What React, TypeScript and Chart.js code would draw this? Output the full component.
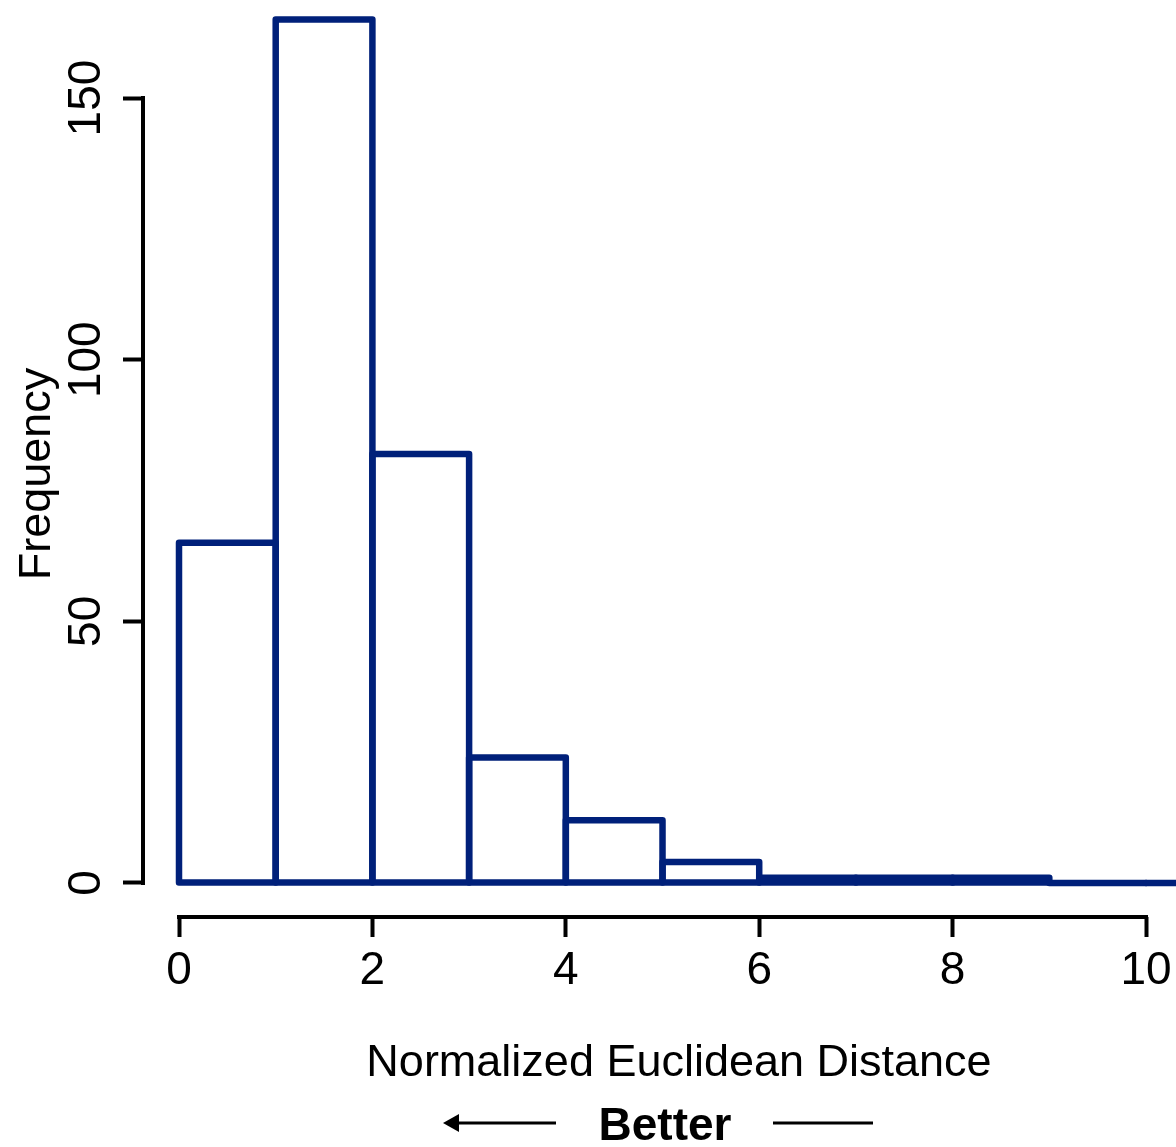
import React, { useEffect, useRef } from "react";
import { Chart, registerables } from "chart.js";

Chart.register(...registerables);

// ---- data ----
const binStarts = [0, 1, 2, 3, 4, 5, 6, 7, 8, 9, 10];
const binWidth = 1;
const frequencies = [65, 165, 82, 24, 12, 4, 1, 1, 1, 0, 0];
const xTickValues = [0, 2, 4, 6, 8, 10];
const yTickValues = [0, 50, 100, 150];
const xAxisTitle = "Normalized Euclidean Distance";
const yAxisTitle = "Frequency";
const noteText = "Better";

// ---- style / layout ----
const W = 1176;
const H = 1147;
const BAR_COLOR = "#00207a";
const FONT = "'Liberation Sans', Arial, Helvetica, sans-serif";
const X_MIN = -0.3723;
const X_MAX = 10.31;
const Y_MIN = -6.497;
const Y_MAX = 168.73;
const AXIS_W = 4;

const histOutline = {
  id: "histOutline",
  afterDatasetsDraw(chart: any) {
    const meta = chart.getDatasetMeta(0);
    const ctx = chart.ctx;
    ctx.save();
    ctx.strokeStyle = BAR_COLOR;
    ctx.lineWidth = 6.5;
    ctx.lineJoin = "round";
    meta.data.forEach((el: any) => {
      const { x, y, base, width } = el.getProps(["x", "y", "base", "width"], true);
      const top = Math.min(y, base);
      const h = Math.abs(base - y);
      ctx.beginPath();
      ctx.moveTo(x - width / 2, base);
      ctx.lineTo(x - width / 2, top);
      ctx.lineTo(x + width / 2, top);
      ctx.lineTo(x + width / 2, top + h);
      ctx.closePath();
      ctx.stroke();
    });
    ctx.restore();
  },
};

const axesAndText = {
  id: "axesAndText",
  afterDraw(chart: any) {
    const ctx = chart.ctx;
    const xs = chart.scales.x;
    const ys = chart.scales.y;
    const area = chart.chartArea;
    ctx.save();
    ctx.strokeStyle = "#000";
    ctx.lineWidth = AXIS_W;
    ctx.lineCap = "butt";
    // x axis line
    const xa0 = xs.getPixelForValue(xTickValues[0]);
    const xa1 = xs.getPixelForValue(xTickValues[xTickValues.length - 1]);
    ctx.beginPath();
    ctx.moveTo(xa0 - AXIS_W / 2, area.bottom);
    ctx.lineTo(xa1 + AXIS_W / 2, area.bottom);
    ctx.stroke();
    // y axis line
    const ya0 = ys.getPixelForValue(yTickValues[0]);
    const ya1 = ys.getPixelForValue(yTickValues[yTickValues.length - 1]);
    ctx.beginPath();
    ctx.moveTo(area.left, ya0 + AXIS_W / 2);
    ctx.lineTo(area.left, ya1 - AXIS_W / 2);
    ctx.stroke();

    ctx.fillStyle = "#000";
    // x title
    ctx.font = `45px ${FONT}`;
    ctx.textAlign = "center";
    ctx.textBaseline = "alphabetic";
    ctx.fillText(xAxisTitle, 679, 1076);
    // y title
    ctx.save();
    ctx.translate(50, 474);
    ctx.rotate(-Math.PI / 2);
    ctx.fillText(yAxisTitle, 0, 0);
    ctx.restore();
    // Better
    ctx.font = `bold 46px ${FONT}`;
    ctx.fillText(noteText, 665, 1140);
    // arrows
    ctx.lineWidth = 3;
    ctx.beginPath();
    ctx.moveTo(456, 1123);
    ctx.lineTo(556, 1123);
    ctx.moveTo(773, 1123);
    ctx.lineTo(873, 1123);
    ctx.stroke();
    ctx.beginPath();
    ctx.moveTo(443, 1123);
    ctx.lineTo(459, 1114);
    ctx.lineTo(459, 1132);
    ctx.closePath();
    ctx.fill();
    ctx.restore();
  },
};

export default function App() {
  const ref = useRef<HTMLCanvasElement | null>(null);
  useEffect(() => {
    document.body.style.margin = "0";
    if (!ref.current) return;
    Chart.defaults.font.family = FONT;
    const chart = new Chart(ref.current, {
      type: "bar",
      data: {
        datasets: [
          {
            data: binStarts.map((s, i) => ({ x: s + binWidth / 2, y: frequencies[i] })),
            backgroundColor: "rgba(0,0,0,0)",
            borderWidth: 0,
            barPercentage: 1,
            categoryPercentage: 1,
          } as any,
        ],
      },
      options: {
        responsive: false,
        animation: false,
        layout: { padding: 0 },
        plugins: {
          legend: { display: false },
          tooltip: { enabled: false },
          title: { display: false },
        },
        scales: {
          x: {
            type: "linear",
            min: X_MIN,
            max: X_MAX,
            offset: false,
            grid: {
              display: true,
              drawOnChartArea: false,
              drawTicks: true,
              tickLength: 20,
              tickWidth: AXIS_W,
              tickColor: "#000",
              offset: false,
            },
            border: { display: false },
            ticks: {
              font: { family: FONT, size: 46 },
              color: "#000",
              padding: 7,
              maxRotation: 0,
              minRotation: 0,
              autoSkip: false,
            },
            afterBuildTicks: (s: any) => {
              s.ticks = xTickValues.map((v) => ({ value: v }));
            },
            afterFit: (s: any) => {
              s.height = 230;
              s.paddingLeft = 0;
              s.paddingRight = 0;
            },
          } as any,
          y: {
            type: "linear",
            min: Y_MIN,
            max: Y_MAX,
            grid: {
              display: true,
              drawOnChartArea: false,
              drawTicks: true,
              tickLength: 20,
              tickWidth: AXIS_W,
              tickColor: "#000",
            },
            border: { display: false },
            ticks: {
              font: { family: FONT, size: 46 },
              color: "#000",
              padding: -3,
              minRotation: 90,
              maxRotation: 90,
              crossAlign: "center",
              autoSkip: false,
            },
            afterBuildTicks: (s: any) => {
              s.ticks = yTickValues.map((v) => ({ value: v }));
            },
            afterFit: (s: any) => {
              s.width = 143;
              s.paddingTop = 0;
              s.paddingBottom = 0;
            },
          } as any,
        },
      },
      plugins: [histOutline, axesAndText],
    });
    return () => chart.destroy();
  }, []);
  return (
    <div style={{ position: "absolute", left: 0, top: 0, width: W, height: H, background: "#fff" }}>
      <canvas ref={ref} width={W} height={H} style={{ display: "block", width: W, height: H }} />
    </div>
  );
}
